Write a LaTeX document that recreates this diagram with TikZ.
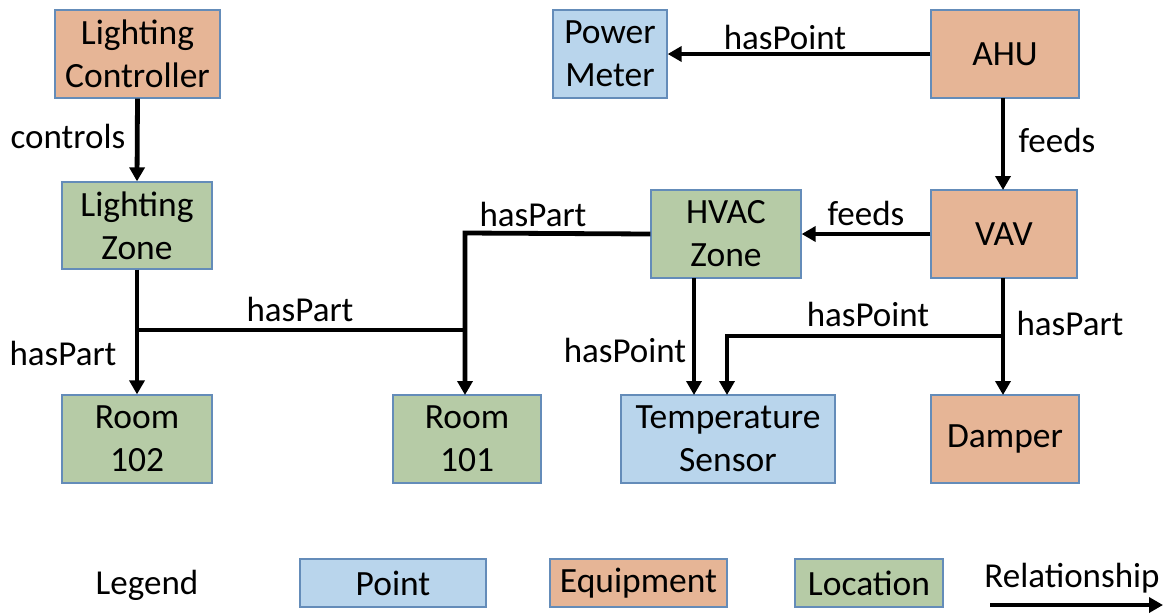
\documentclass[tikz,border=0pt]{standalone}
\usepackage{fontspec}
\setmainfont{Carlito}
\usetikzlibrary{arrows.meta}
\definecolor{eqc}{RGB}{230,181,150}
\definecolor{locc}{RGB}{182,203,166}
\definecolor{ptc}{RGB}{185,213,236}
\definecolor{bdc}{RGB}{100,140,185}
\tikzset{
  box/.style={draw=bdc,line width=1.3pt,align=center,inner sep=0pt,minimum height=88pt,font=\fontsize{35.5}{43}\selectfont},
  equip/.style={box,fill=eqc},
  loc/.style={box,fill=locc},
  pt/.style={box,fill=ptc},
  rel/.style={line width=4.8pt,-{Triangle[length=14pt,width=15pt]}},
  seg/.style={line width=4.8pt},
  lbl/.style={font=\fontsize{35}{42}\selectfont,inner sep=0pt},
}
\begin{document}
\begin{tikzpicture}[x=1pt,y=-1pt]
\useasboundingbox (0,0) rectangle (1167,614);
% nodes
\node[equip,minimum width=165pt] (lc) at (137.5,54) {Lighting\\Controller};
\node[loc,minimum width=150pt,minimum height=87pt] (lz) at (137,225.5) {Lighting\\Zone};
\node[loc,minimum width=150pt] (r102) at (137,439) {Room\\102};
\node[loc,minimum width=148pt] (r101) at (467,439) {Room\\101};
\node[pt,minimum width=214pt] (ts) at (728,439) {Temperature\\Sensor};
\node[equip,minimum width=148pt] (dmp) at (1005,439) {Damper};
\node[pt,minimum width=114pt] (pm) at (610,54) {Power\\Meter};
\node[equip,minimum width=148pt] (ahu) at (1005,54) {AHU};
\node[loc,minimum width=150pt] (hz) at (726,234) {HVAC\\Zone};
\node[equip,minimum width=146pt] (vav) at (1004,234) {VAV};
% connectors
\draw[rel] (lc.south) -- (lz.north);
\node[lbl] (l1) at (68,136) {controls};
\draw[rel] (ahu.west |- 0,54) -- (pm.east |- 0,54);
\node[lbl] (l2) at (785,37) {hasPoint};
\coordinate (ahuS) at (1003,98);
\coordinate (vavN) at (1003,190);
\draw[rel] (ahuS) -- (vavN);
\node[lbl] (l3) at (1057,140) {feeds};
\draw[rel] (vav.west) -- (hz.east);
\node[lbl] (l4) at (866,213) {feeds};
\draw[rel] (lz.south) -- (r102.north);
\node[lbl] (l5) at (63,353) {hasPart};
\coordinate (b1) at (137,330);
\coordinate (b2) at (465,330);
\coordinate (r101N) at (465,395);
\draw[seg] (b1) -- (b2);
\node[lbl] (l6) at (300,309) {hasPart};
\coordinate (h1) at (465,233);
\draw[rel] (hz.west) -- (h1) -- (r101N);
\node[lbl] (l7) at (533,214) {hasPart};
\coordinate (hzS) at (694,278);
\coordinate (tsN1) at (694,395);
\draw[rel] (hzS) -- (tsN1);
\node[lbl] (l8) at (625,350) {hasPoint};
\coordinate (vavS) at (1003,278);
\coordinate (dmpN) at (1003,395);
\draw[rel] (vavS) -- (dmpN);
\node[lbl] (l9) at (1070,323) {hasPart};
\coordinate (v1) at (1003,336);
\coordinate (v2) at (727,336);
\coordinate (tsN2) at (727,395);
\draw[rel] (v1) -- (v2) -- (tsN2);
\node[lbl] (l10) at (868,314) {hasPoint};
% legend
\node[lbl] (lg) at (147,585) {Legend};
\node[pt,minimum width=186pt,minimum height=48pt] (lgp) at (393,583) {Point};
\node[equip,minimum width=177pt,minimum height=48pt] (lge) at (638.5,583) {Equipment};
\node[loc,minimum width=148pt,minimum height=48pt] (lgl) at (869,583) {Location};
\node[lbl] (lgr) at (1072,578) {Relationship};
\coordinate (ra) at (990,605);
\coordinate (rb) at (1163,605);
\draw[rel] (ra) -- (rb);
\end{tikzpicture}
\end{document}
